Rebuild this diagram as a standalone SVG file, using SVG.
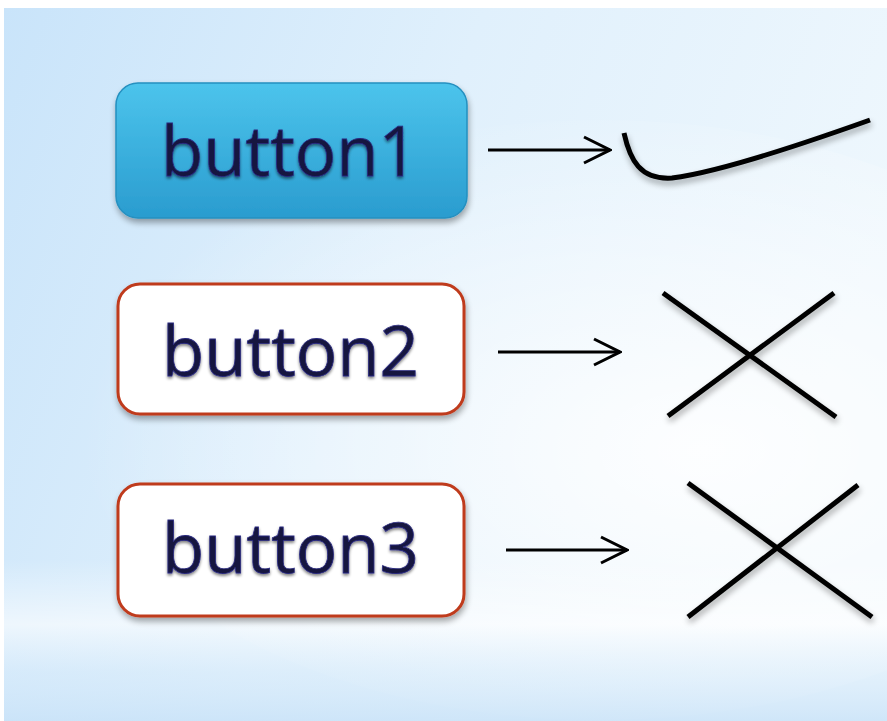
<svg xmlns="http://www.w3.org/2000/svg" width="887" height="721" viewBox="0 0 887 721">
<defs>
<linearGradient id="bg" x1="0" y1="0" x2="1" y2="0.3">
<stop offset="0" stop-color="#c9e4fa"/>
<stop offset="0.5" stop-color="#e0f0fc"/>
<stop offset="1" stop-color="#eef7fd"/>
</linearGradient>
<linearGradient id="band" x1="0" y1="0" x2="0" y2="1">
<stop offset="0" stop-color="#ffffff" stop-opacity="0"/>
<stop offset="0.4" stop-color="#ffffff" stop-opacity="0.6"/>
<stop offset="0.7" stop-color="#d6eafa" stop-opacity="0.5"/>
<stop offset="1" stop-color="#c8e2f8" stop-opacity="0.8"/>
</linearGradient>
<radialGradient id="glow" cx="0.6" cy="0.55" r="0.6">
<stop offset="0" stop-color="#ffffff" stop-opacity="0.9"/>
<stop offset="1" stop-color="#ffffff" stop-opacity="0"/>
</radialGradient>
<linearGradient id="blue" x1="0" y1="0" x2="0" y2="1">
<stop offset="0" stop-color="#4cc4ec"/>
<stop offset="1" stop-color="#2a9ccf"/>
</linearGradient>
<filter id="sh" x="-20%" y="-20%" width="140%" height="150%">
<feGaussianBlur in="SourceAlpha" stdDeviation="3"/>
<feOffset dx="1" dy="4" result="b"/>
<feComponentTransfer><feFuncA type="linear" slope="0.35"/></feComponentTransfer>
<feMerge><feMergeNode/><feMergeNode in="SourceGraphic"/></feMerge>
</filter>
<filter id="tsh" x="-10%" y="-20%" width="120%" height="150%">
<feGaussianBlur in="SourceAlpha" stdDeviation="1.5"/>
<feOffset dx="0" dy="2"/>
<feComponentTransfer><feFuncA type="linear" slope="0.5"/></feComponentTransfer>
<feMerge><feMergeNode/><feMergeNode in="SourceGraphic"/></feMerge>
</filter>
<marker id="chev" viewBox="0 0 30 30" refX="28" refY="15" markerWidth="30" markerHeight="30" markerUnits="userSpaceOnUse" orient="auto">
<path d="M2,2 L28,15 L2,28" fill="none" stroke="#000" stroke-width="3"/>
</marker>
</defs>
<style>
.lbl{font-family:"Open Sans","DejaVu Sans",sans-serif;font-size:69px;fill:#15153f;stroke:#2a2a80;stroke-width:0.8}
.box{fill:#fff;stroke:#bf3a1c;stroke-width:3}
.arr{stroke:#000;stroke-width:3;fill:none}
.mark{stroke:#000;stroke-width:5;fill:none;stroke-linecap:butt}
</style>
<rect x="4" y="8" width="883" height="713" fill="url(#bg)"/>
<ellipse cx="600" cy="420" rx="520" ry="300" fill="url(#glow)"/>
<rect x="4" y="560" width="883" height="161" fill="url(#band)"/>
<g id="button1" filter="url(#sh)">
<rect x="116" y="83" width="351" height="135" rx="22" fill="url(#blue)" stroke="#2590c0" stroke-width="1.5"/>
<text class="lbl" x="161" y="176" filter="url(#tsh)">button1</text>
</g>
<g id="button2" filter="url(#sh)">
<rect class="box" x="118" y="284" width="346" height="130" rx="22"/>
<text class="lbl" x="162" y="376" filter="url(#tsh)">button2</text>
</g>
<g id="button3" filter="url(#sh)">
<rect class="box" x="118" y="484" width="346" height="132" rx="22"/>
<text class="lbl" x="162" y="573" filter="url(#tsh)">button3</text>
</g>
<g id="connectors">
<line class="arr" x1="488" y1="150" x2="610" y2="150" marker-end="url(#chev)"/>
<line class="arr" x1="498" y1="352" x2="620" y2="352" marker-end="url(#chev)"/>
<line class="arr" x1="506" y1="550" x2="627" y2="550" marker-end="url(#chev)"/>
</g>
<g id="check" filter="url(#sh)">
<path class="mark" d="M624,133 C630,160 640,180 672,178 C720,172 800,145 870,120"/>
</g>
<g id="cross2" filter="url(#sh)">
<line class="mark" x1="663" y1="293" x2="836" y2="417"/>
<line class="mark" x1="834" y1="293" x2="668" y2="416"/>
</g>
<g id="cross3" filter="url(#sh)">
<line class="mark" x1="688" y1="483" x2="872" y2="617"/>
<line class="mark" x1="858" y1="485" x2="688" y2="617"/>
</g>
</svg>
